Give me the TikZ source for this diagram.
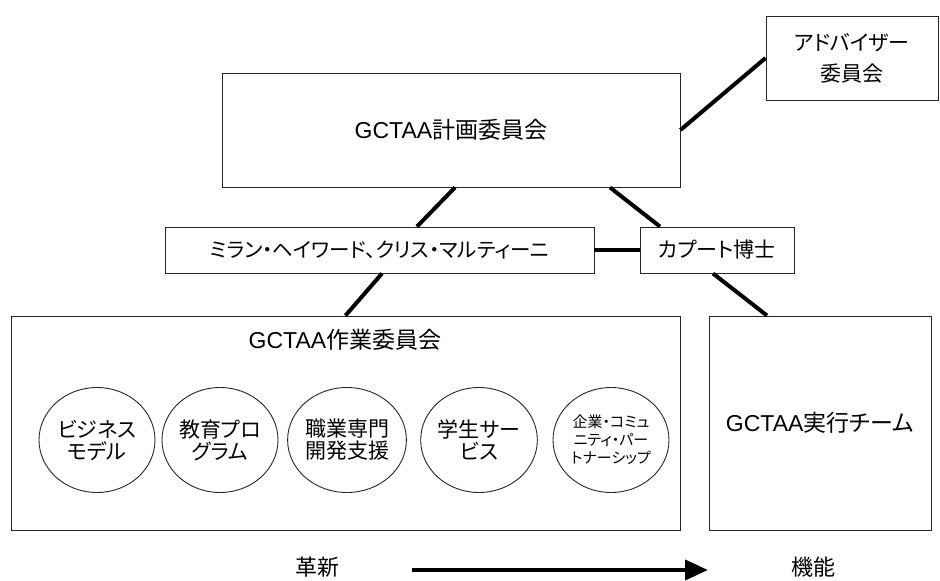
\documentclass[tikz,border=0pt]{standalone}
\usepackage{fontspec}
\setmainfont[RawFeature=+palt]{Noto Sans CJK JP}
\newfontfamily\gcLatin{Liberation Sans}
\usetikzlibrary{shapes.geometric,arrows.meta}
\newcommand{\gcFont}[1]{\fontsize{#1}{#1}\selectfont}
\newcommand{\gcName}{{\gcLatin GCTAA}}
\tikzset{
  gcBox/.style={draw=black!85, line width=0.9pt, inner sep=0pt, align=center, font=\gcFont{21}},
  gcTitle/.style={font=\gcFont{23}},
  gcOval/.style={ellipse, draw=black!85, line width=0.9pt, inner sep=0pt, align=center, minimum width=116pt, minimum height=105pt, font=\gcFont{21}},
  gcLink/.style={line width=4pt}
}

\begin{document}
\begin{tikzpicture}[x=1pt,y=-1pt]
\useasboundingbox (0,0) rectangle (940,581);
\node[gcBox, minimum width=172pt, minimum height=84pt] (advisor) at (852,58) {アドバイザー\\[10pt]委員会};
\node[gcBox, gcTitle, minimum width=458pt, minimum height=114pt] (planning) at (451,130) {\gcName 計画委員会};
\node[gcBox, font=\gcFont{20.5}, minimum width=429pt, minimum height=46pt] (milan) at (379.5,250) {ミラン・ヘイワード、クリス・マルティーニ};
\node[gcBox, minimum width=154pt, minimum height=46pt] (kaput) at (717,250) {カプート博士};
\node[gcBox, minimum width=669pt, minimum height=214pt] (work) at (345.5,423) {};
\node[gcBox, gcTitle, minimum width=222pt, minimum height=214pt] (exec) at (820,423) {\gcName 実行チーム};
\node[inner sep=0pt, gcTitle] (workTitle) at (345,340) {\gcName 作業委員会};
\node[gcOval] (business) at (97,440) {ビジネス\\[1pt]モデル};
\node[gcOval] (education) at (220,440) {教育プロ\\[1pt]グラム};
\node[gcOval] (career) at (347,440) {職業専門\\[1pt]開発支援};
\node[gcOval] (student) at (479,440) {学生サー\\[1pt]ビス};
\node[gcOval, font=\gcFont{15}] (partner) at (611,440) {企業・コミュ\\[3pt]ニティ・パー\\[3pt]トナーシップ};
\node[inner sep=0pt, font=\gcFont{22}] (innovation) at (317,567) {革新};
\node[inner sep=0pt, font=\gcFont{22}] (function) at (813,567) {機能};
\coordinate (arrowStart) at (412,570);
\coordinate (arrowEnd) at (708,570);
% links between committees
\draw[gcLink] (planning.east) -- (advisor.west);
\draw[gcLink] ([xshift=4pt]planning.south) -- ([xshift=37.5pt]milan.north);
\draw[gcLink] ([xshift=159pt]planning.south) -- ([xshift=-57pt]kaput.north);
\draw[gcLink] (milan.east) -- (kaput.west);
\draw[gcLink] ([xshift=2.5pt]milan.south) -- (work.north);
\draw[gcLink] ([xshift=-4pt]kaput.south) -- ([xshift=-53pt]exec.north);
\draw[gcLink, -{Triangle[length=23pt,width=20pt]}] (arrowStart) -- (arrowEnd);
\end{tikzpicture}
\end{document}
